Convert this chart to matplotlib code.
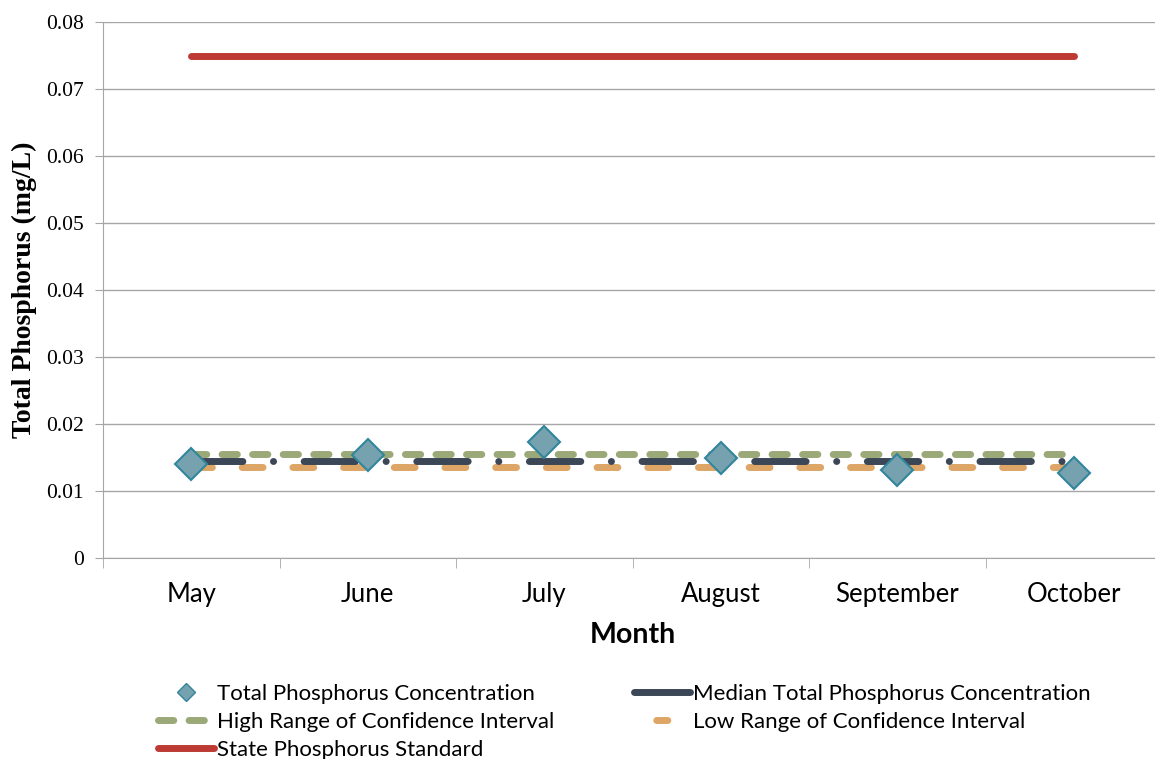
import matplotlib.pyplot as plt
from matplotlib.lines import Line2D

plt.rcParams['lines.scale_dashes'] = False

months = ['May', 'June', 'July', 'August', 'September', 'October']
tp_conc = [0.0140, 0.0154, 0.0173, 0.0150, 0.0131, 0.0127]
tp_median = [0.01448] * 6
ci_high = [0.01552] * 6
ci_low = [0.01358] * 6
state_std = [0.075] * 6

serif = 'Liberation Serif'
sans = 'Lato'
grey = '#A6A6A6'

fig = plt.figure(figsize=(11.55, 7.59), dpi=100)
ax = fig.add_axes([103 / 1155, 1 - 558 / 759, 1059 / 1155, 536 / 759])

x = list(range(len(months)))

ax.plot(x, state_std, color='#BE3A34', lw=5, solid_capstyle='round', zorder=3)
ax.plot(x, ci_low, color='#DDA566', lw=5, dashes=(15, 21.5),
        dash_capstyle='round', zorder=3)
ax.plot(x, ci_high, color='#9BA878', lw=5, dashes=(11, 11),
        dash_capstyle='round', zorder=4)
ax.plot(x, tp_median, color='#3B4656', lw=5, dashes=(37, 22, 0.1, 22),
        dash_capstyle='round', zorder=5)
ax.plot(x, tp_conc, ls='none', marker='D', ms=16, mfc='#76A1AE',
        mec='#31859C', mew=1.5, zorder=6)

ax.set_xlim(-0.5, 5.5)
ax.set_ylim(0, 0.08)
ax.set_yticks([i / 100 for i in range(9)])
ax.set_yticklabels(['0'] + ['%.2f' % (i / 100) for i in range(1, 9)],
                   fontfamily=serif, fontsize=15.5)
ax.tick_params(axis='y', direction='out', length=6, color=grey, pad=8)
ax.grid(axis='y', color=grey, lw=1)
ax.set_axisbelow(True)

ax.set_xticks(x)
ax.set_xticklabels(months, fontfamily=sans, fontsize=18.5)
ax.set_xticks([i - 0.5 for i in range(7)], minor=True)
ax.tick_params(axis='x', which='major', length=0, pad=17)
ax.tick_params(axis='x', which='minor', direction='out', length=7, color=grey)

for s in ['top', 'right']:
    ax.spines[s].set_visible(False)
for s in ['left', 'bottom']:
    ax.spines[s].set_color(grey)

ax.set_xlabel('Month', fontfamily=sans, fontsize=20.5, fontweight='bold', labelpad=11)
ax.set_ylabel('Total Phosphorus (mg/L)', fontfamily=serif, fontsize=20,
              fontweight='bold', labelpad=6)

# legend handles; low range shows a single centred dash like the original
hl = 40
handles = [
    Line2D([], [], ls='none', marker='D', ms=9, mfc='#76A1AE', mec='#31859C'),
    Line2D([], [], color='#9BA878', lw=5, ls=(0, (11, 11)), dash_capstyle='round'),
    Line2D([], [], color='#BE3A34', lw=5, solid_capstyle='round'),
    Line2D([], [], color='#3B4656', lw=5, solid_capstyle='round'),
    Line2D([], [], color='#DDA566', lw=5, ls=(8 + 100 - (hl - 8) / 2, (8, 100)),
           dash_capstyle='round'),
]
labels = ['Total Phosphorus Concentration', 'High Range of Confidence Interval',
          'State Phosphorus Standard', 'Median Total Phosphorus Concentration',
          'Low Range of Confidence Interval']
fig.legend(handles, labels, ncol=2, loc='upper left',
           bbox_to_anchor=(147 / 1155, 1 - 673 / 759),
           frameon=False, prop={'family': sans, 'size': 16}, handlelength=hl / 16,
           handletextpad=0.15, columnspacing=3.6, labelspacing=0.36, borderpad=0)

fig.savefig('out.png', dpi=100)
